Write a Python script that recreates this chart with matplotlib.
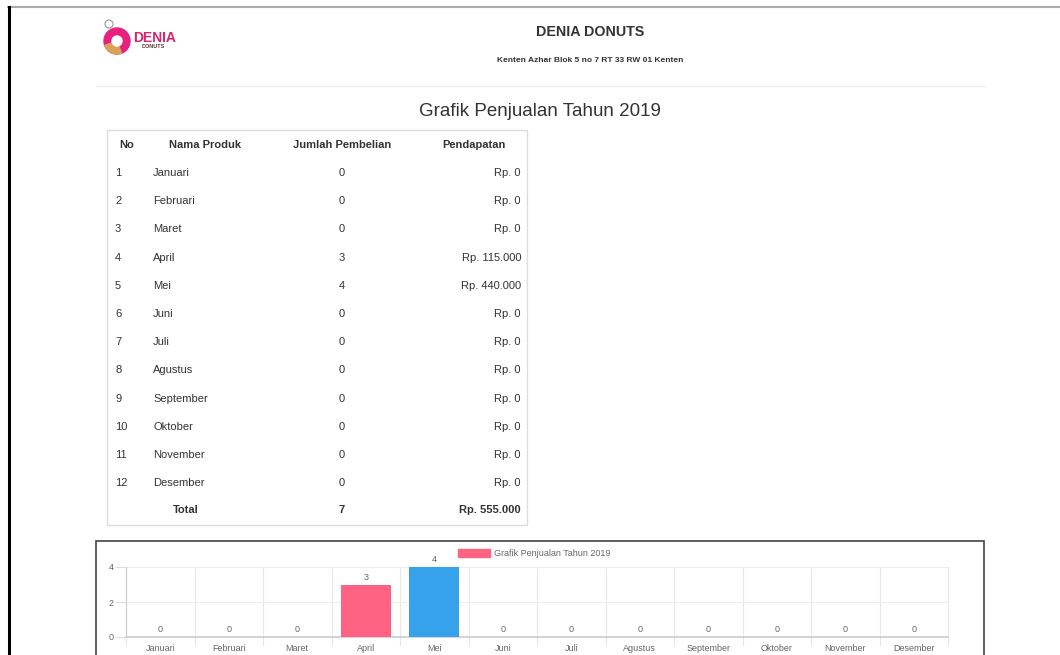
import numpy as np
import matplotlib
matplotlib.use("Agg")
from matplotlib import pyplot as plt
from matplotlib.patches import Rectangle, Circle, Wedge

bulan = ["Januari", "Februari", "Maret", "April", "Mei", "Juni", "Juli",
         "Agustus", "September", "Oktober", "November", "Desember"]
jumlah = [0, 0, 0, 3, 4, 0, 0, 0, 0, 0, 0, 0]
pendapatan = ["Rp. 0", "Rp. 0", "Rp. 0", "Rp. 115.000", "Rp. 440.000", "Rp. 0",
              "Rp. 0", "Rp. 0", "Rp. 0", "Rp. 0", "Rp. 0", "Rp. 0"]
total_jumlah = "7"
total_pendapatan = "Rp. 555.000"
header = ["No", "Nama Produk", "Jumlah Pembelian", "Pendapatan"]
bar_colors = ["#FF6384", "#36A2EB"]

W, H = 1060, 655
plt.rcParams["font.family"] = ["Liberation Sans", "DejaVu Sans"]
fig = plt.figure(figsize=(W / 100, H / 100), dpi=100)


def px(x, y):
    return x / W, 1 - y / H


def hline(x0, x1, y, color, lw):
    fig.add_artist(plt.Line2D([x0 / W, x1 / W], [1 - y / H, 1 - y / H],
                              color=color, lw=lw, transform=fig.transFigure))


def vline(x, y0, y1, color, lw):
    fig.add_artist(plt.Line2D([x / W, x / W], [1 - y0 / H, 1 - y1 / H],
                              color=color, lw=lw, transform=fig.transFigure))


def txt(x, y, s, **kw):
    kw.setdefault("color", "#333333")
    kw.setdefault("va", "center")
    fig.text(*px(x, y), s, **kw)


# page frame
hline(8, 1060, 7, "#aaaaaa", 1.5)
vline(9, 7, 655, "black", 2.2)

# logo (small axes in pixel units so circles stay round)
lx0, ly0, lx1, ly1 = 95, 14, 200, 60
lax = fig.add_axes([lx0 / W, 1 - ly1 / H, (lx1 - lx0) / W, (ly1 - ly0) / H])
lax.set_xlim(lx0, lx1)
lax.set_ylim(ly0, ly1)
lax.invert_yaxis()
lax.axis("off")
lax.add_patch(Circle((117, 41), 13, color="#e8217f"))
lax.add_patch(Wedge((117, 41), 13, 70, 160, color="#d9a25a"))
lax.add_patch(Circle((117, 41), 5, color="white"))
lax.add_patch(Circle((109, 24), 4, fill=False, ec="#999999", lw=0.8))
lax.text(155, 38, "DENIA", fontsize=10, fontweight="bold", color="#d6246e",
         ha="center", va="center")
lax.text(153, 46, "DONUTS", fontsize=4, fontweight="bold", color="#5a3a2a",
         ha="center", va="center")

# header
txt(590, 32, "DENIA DONUTS", fontsize=10.3, fontweight="bold", ha="center")
txt(590, 60, "Kenten Azhar Blok 5 no 7 RT 33 RW 01 Kenten", fontsize=6,
    fontweight="bold", ha="center")
hline(96, 985, 86, "#eeeeee", 1)
txt(540, 111, "Grafik Penjualan Tahun 2019", fontsize=13.5, ha="center")

# table
fig.add_artist(Rectangle(px(107, 525), (527 - 107) / W, (525 - 130) / H,
                         transform=fig.transFigure, fill=False,
                         ec="#dddddd", lw=1))
txt(127, 145, header[0], fontsize=8, fontweight="bold", ha="center")
txt(205, 145, header[1], fontsize=8, fontweight="bold", ha="center")
txt(342, 145, header[2], fontsize=8, fontweight="bold", ha="center")
txt(474, 145, header[3], fontsize=8, fontweight="bold", ha="center")
for i, nama in enumerate(bulan):
    y = 173 + i * 28.2
    txt(115, y, str(i + 1), fontsize=8, ha="left")
    txt(153, y, nama, fontsize=8, ha="left")
    txt(342, y, str(jumlah[i]), fontsize=8, ha="center")
    txt(521, y, pendapatan[i], fontsize=8, ha="right")
txt(186, 510, "Total", fontsize=8, fontweight="bold", ha="center")
txt(342, 510, total_jumlah, fontsize=8, fontweight="bold", ha="center")
txt(521, 510, total_pendapatan, fontsize=8, fontweight="bold", ha="right")

# chart box
fig.add_artist(Rectangle(px(96, 680), (984 - 96) / W, (680 - 541) / H,
                         transform=fig.transFigure, fill=False,
                         ec="#444444", lw=1.2))

# bar chart
ax = fig.add_axes([126 / W, 1 - 637 / H, (948 - 126) / W, (637 - 567) / H])
x = np.arange(len(bulan))
colors = [bar_colors[(i + 1) % 2] for i in range(len(bulan))]
ax.bar(x, jumlah, width=0.73, color=colors, zorder=3,
       label="Grafik Penjualan Tahun 2019")
for xi, v in zip(x, jumlah):
    ax.text(xi, v + 0.15, str(v), ha="center", va="bottom", fontsize=6.5,
            color="#666666")
ax.set_xlim(-0.5, len(bulan) - 0.5)
ax.set_ylim(0, 4)
ax.set_yticks([0, 2, 4])
ax.set_xticks(x)
ax.set_xticklabels(bulan, fontsize=6.5, color="#666666")
ax.tick_params(axis="y", labelsize=6.5, labelcolor="#666666", color="#dddddd",
               length=8, pad=1)
ax.tick_params(axis="x", length=0, pad=5)
for b in np.arange(-0.5, len(bulan), 1.0):
    ax.plot([b, b], [0, 4], color="#e8e8e8", lw=0.8, zorder=1, clip_on=False)
    ax.plot([b, b], [0, -0.45], color="#e8e8e8", lw=0.8, zorder=1,
            clip_on=False)
ax.yaxis.grid(True, color="#eeeeee", lw=0.8, zorder=1)
for s in ["top", "right"]:
    ax.spines[s].set_visible(False)
ax.spines["left"].set_color("#cccccc")
ax.spines["bottom"].set_color("#cccccc")
ax.spines["bottom"].set_linewidth(1.2)

# legend
fig.add_artist(Rectangle(px(458, 557), 32 / W, 8 / H, transform=fig.transFigure,
                         color=bar_colors[0]))
txt(494, 553, "Grafik Penjualan Tahun 2019", fontsize=6.5, color="#666666",
    ha="left")

fig.savefig("out.png", dpi=100)
